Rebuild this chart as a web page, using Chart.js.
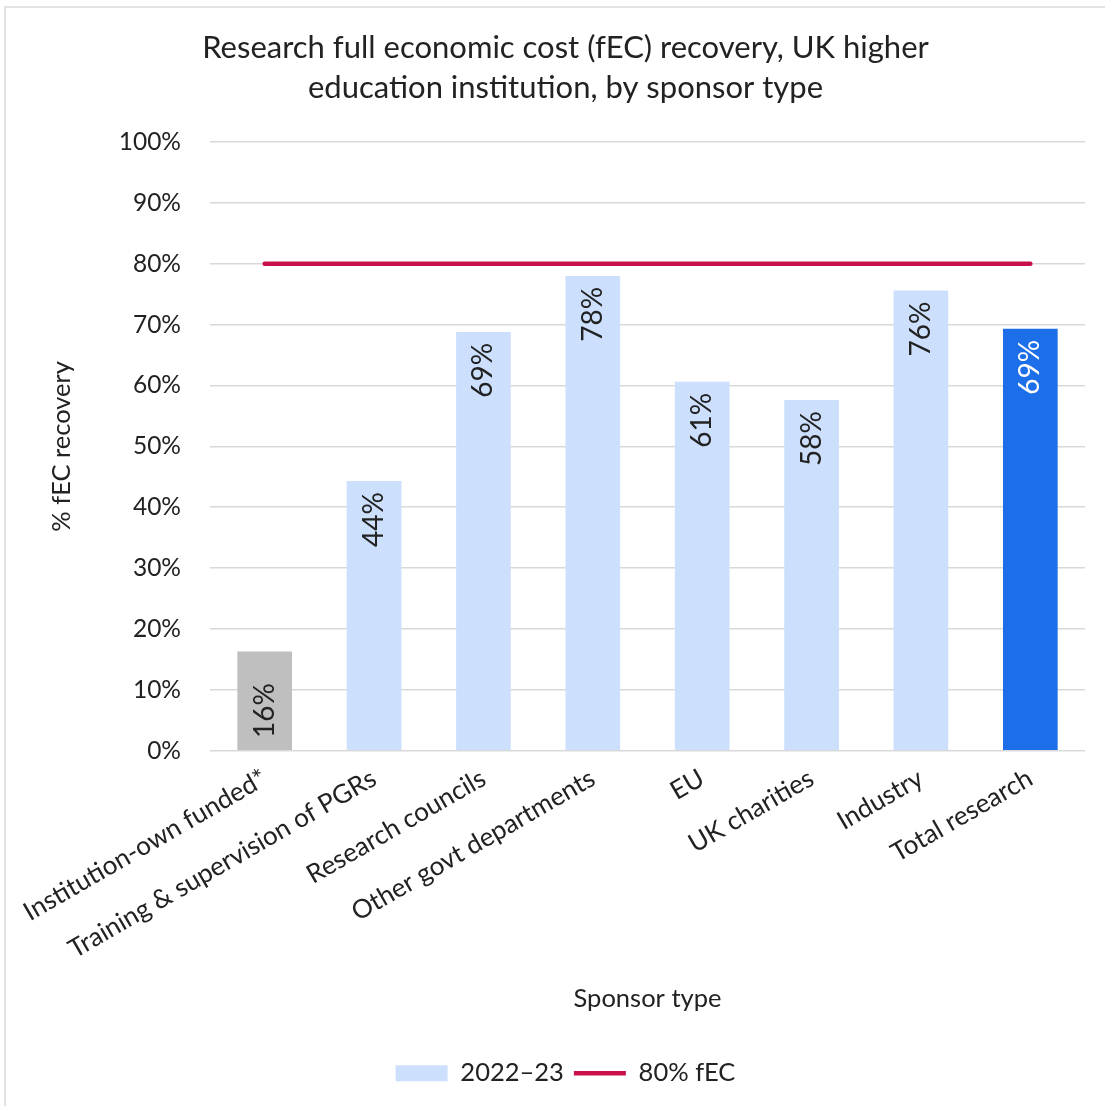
<!DOCTYPE html>
<html>
<head>
<meta charset="utf-8">
<script src="https://cdn.jsdelivr.net/npm/chart.js@4.4.1/dist/chart.umd.min.js"></script>
<style>
  html, body { margin: 0; padding: 0; background: #fff; }
  #frame { position: absolute; left: 4px; top: 6px; width: 1120px; height: 1120px; border: 2px solid #e3e3e3; }
  #wrap { position: absolute; left: 0; top: 0; width: 1105px; height: 1106px; }
</style>
</head>
<body>
<div id="frame"></div>
<div id="wrap"><canvas id="fecChart"></canvas></div>
<script>
// chart data
const categories = ['Institution-own funded*', 'Training & supervision of PGRs', 'Research councils',
    'Other govt departments', 'EU', 'UK charities', 'Industry', 'Total research'];
const recovery = [16.3, 44.3, 68.8, 78.0, 60.6, 57.6, 75.6, 69.3];
const threshold = [80, 80, 80, 80, 80, 80, 80, 80];
const yTicks = [0, 10, 20, 30, 40, 50, 60, 70, 80, 90, 100];

const barColors = ['#bfbfbf', '#cce0fd', '#cce0fd', '#cce0fd', '#cce0fd', '#cce0fd', '#cce0fd', '#1d6fe9'];
const labelColors = ['#222', '#222', '#222', '#222', '#222', '#222', '#222', '#fff'];
const FONT = 'Lato';

// draws the rotated value labels inside each bar
const barLabels = {
    id: 'barLabels',
    afterDatasetsDraw(chart) {
        const ctx = chart.ctx;
        const meta = chart.getDatasetMeta(0);
        ctx.save();
        ctx.font = '28px ' + FONT;
        ctx.textBaseline = 'middle';
        meta.data.forEach((bar, i) => {
            const txt = Math.round(recovery[i]) + '%';
            ctx.fillStyle = labelColors[i];
            ctx.save();
            if (recovery[i] < 20) {
                ctx.translate(bar.x, bar.base - 12);
                ctx.rotate(-Math.PI / 2);
                ctx.textAlign = 'left';
            } else {
                ctx.translate(bar.x, bar.y + 11);
                ctx.rotate(-Math.PI / 2);
                ctx.textAlign = 'right';
            }
            ctx.fillText(txt, 0, 0);
            ctx.restore();
        });
        ctx.restore();
    }
};

const ctx = document.getElementById('fecChart').getContext('2d');
const fecChart = new Chart(ctx, {
    type: 'bar',
    data: {
        labels: categories,
        datasets: [
            {
                type: 'bar',
                label: '2022\u201323',
                data: recovery,
                backgroundColor: barColors,
                borderWidth: 0,
                categoryPercentage: 1,
                barPercentage: 0.5,
                pointStyle: 'rect',
                order: 2
            },
            {
                type: 'line',
                label: '80% fEC',
                data: threshold,
                borderColor: '#c8104b',
                backgroundColor: '#c8104b',
                borderWidth: 4.5,
                borderCapStyle: 'round',
                pointRadius: 0,
                pointStyle: 'line',
                fill: false,
                order: 1
            }
        ]
    },
    options: {
        responsive: true,
        maintainAspectRatio: false,
        animation: false,
        layout: { padding: { left: 46, right: 20, top: 20, bottom: 10 } },
        plugins: {
            title: {
                display: true,
                text: ['Research full economic cost (fEC) recovery, UK higher', 'education institution, by sponsor type'],
                color: '#222',
                font: { family: FONT, size: 31, weight: 'normal', lineHeight: 1.29 },
                padding: { top: 8, bottom: 34 }
            },
            legend: {
                position: 'bottom',
                labels: {
                    color: '#222',
                    font: { family: FONT, size: 25.5 },
                    usePointStyle: true,
                    pointStyleWidth: 52,
                    boxHeight: 16,
                    padding: 10,
                    sort: (a, b) => a.datasetIndex - b.datasetIndex,
                    generateLabels(chart) {
                        const items = Chart.defaults.plugins.legend.labels.generateLabels(chart);
                        items.forEach(it => {
                            if (it.datasetIndex === 0) {
                                it.fillStyle = '#cce0fd';
                                it.strokeStyle = '#cce0fd';
                                it.lineWidth = 0;
                            }
                        });
                        return items;
                    }
                }
            },
            tooltip: { enabled: false }
        },
        scales: {
            x: {
                grid: { display: false },
                border: { display: false },
                // let the long first label run under the y axis, as in the original
                afterFit(scale) { scale.paddingLeft = 0; },
                ticks: {
                    color: '#222',
                    font: { family: FONT, size: 26 },
                    minRotation: 30,
                    maxRotation: 30,
                    autoSkip: false,
                    padding: 4
                },
                title: {
                    display: true,
                    text: 'Sponsor type',
                    color: '#222',
                    font: { family: FONT, size: 25.5 },
                    padding: { top: 15, bottom: 36 }
                }
            },
            y: {
                min: 0,
                max: 100,
                afterBuildTicks(scale) {
                    scale.ticks = yTicks.map(v => ({ value: v }));
                },
                // fixed axis width so the plot starts where the original does
                afterFit(scale) { scale.width = 164; },
                grid: { color: '#d9d9d9', lineWidth: 1.5, drawTicks: false },
                border: { display: false },
                ticks: {
                    color: '#222',
                    font: { family: FONT, size: 24.5 },
                    padding: 29,
                    callback: v => v + '%'
                },
                title: {
                    display: true,
                    text: '% fEC recovery',
                    color: '#222',
                    font: { family: FONT, size: 25.5 },
                    padding: { top: 0, bottom: 43 }
                }
            }
        }
    },
    plugins: [barLabels]
});
</script>
</body>
</html>
